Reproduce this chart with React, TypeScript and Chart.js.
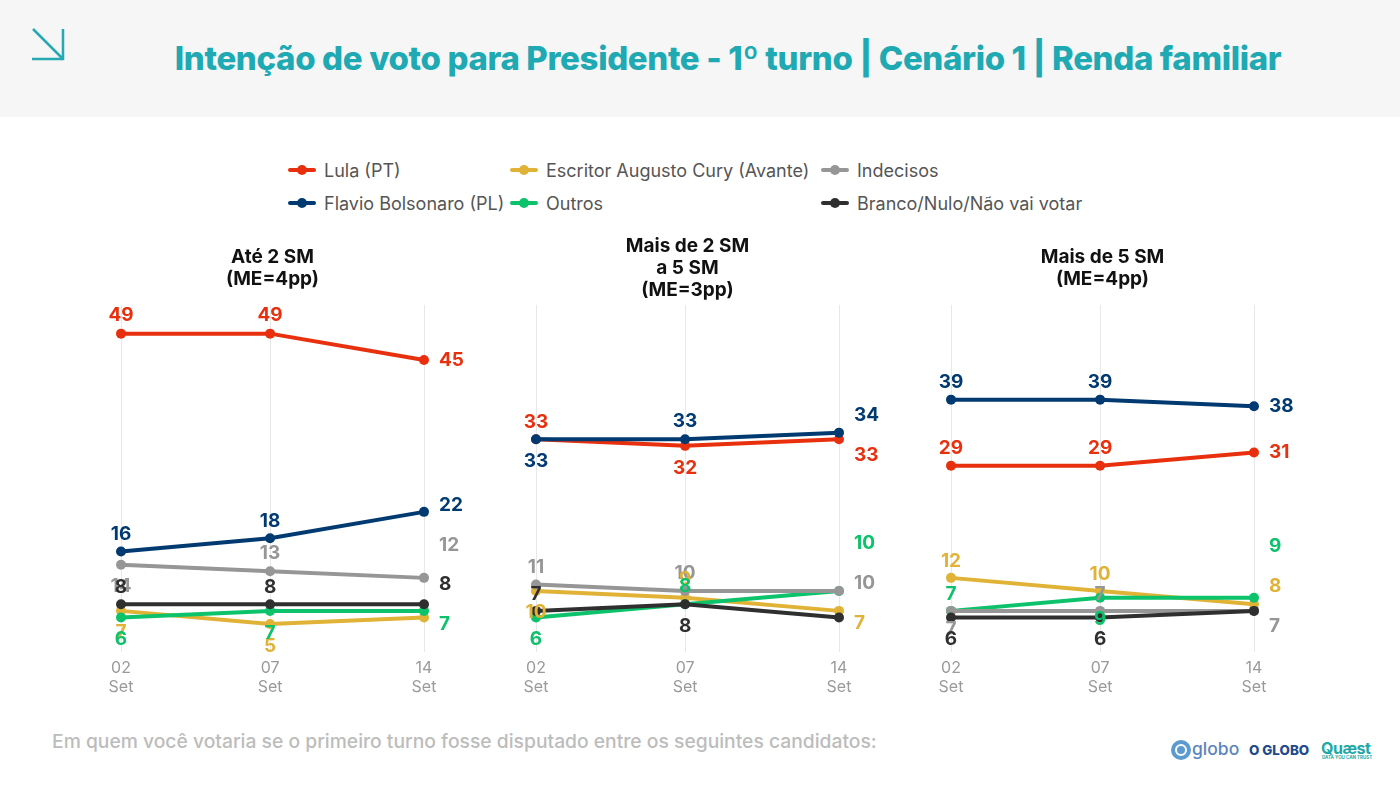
import React, { useEffect, useRef } from 'react';
import { Chart, registerables } from 'chart.js';

Chart.register(...registerables);

const FONT = 'Inter, "Noto Sans", sans-serif';

const dates = [['02', 'Set'], ['07', 'Set'], ['14', 'Set']];
// the three polls are not evenly spaced in the original layout
const dateStops = [0, 49.2, 100];

const panelTitles = [
  ['Até 2 SM', '(ME=4pp)'],
  ['Mais de 2 SM', 'a 5 SM', '(ME=3pp)'],
  ['Mais de 5 SM', '(ME=4pp)'],
];

const seriesNames = ['Lula (PT)', 'Flavio Bolsonaro (PL)', 'Escritor Augusto Cury (Avante)', 'Outros', 'Indecisos', 'Branco/Nulo/Não vai votar'];
const seriesColors = ['#e8300e', '#003a70', '#e0b236', '#0cc26a', '#969696', '#2f2f2f'];

// one row per panel
const lula = [[49, 49, 45], [33, 32, 33], [29, 29, 31]];
const flavio = [[16, 18, 22], [33, 33, 34], [39, 39, 38]];
const cury = [[7, 5, 6], [10, 9, 7], [12, 10, 8]];
const outros = [[6, 7, 7], [6, 8, 10], [7, 9, 9]];
const indecisos = [[14, 13, 12], [11, 10, 10], [7, 7, 7]];
const branco = [[8, 8, 8], [7, 8, 6], [6, 6, 7]];
const allSeries = [lula, flavio, cury, outros, indecisos, branco];

// vertical nudge of each value label, null = label is covered in the original
const labelNudges = [
  [[-19, -19, -1], [-18, -18, -8], [20, 21, null], [21, 21, 12], [21, -19, -34], [-18, -18, -21]],
  [[-18, 21, 15], [21, -19, -18], [20, -19, 11], [21, -19, -49], [-18, -19, -9], [-18, 21, null]],
  [[-18, -18, -1], [-18, -18, -1], [-18, -18, -19], [-18, 21, -52], [17, -18, 14], [21, 21, null]],
];
// labels overlap in the original in this order, last one on top
const labelOrder = [0, 1, 4, 2, 3, 5];

const legendRows = [
  { name: 0, left: 288, top: 170 },
  { name: 1, left: 288, top: 203 },
  { name: 2, left: 510, top: 170 },
  { name: 3, left: 510, top: 203 },
  { name: 4, left: 821, top: 170 },
  { name: 5, left: 821, top: 203 },
];

const valueLabels = {
  id: 'valueLabels',
  afterDatasetsDraw(chart: any, _args: any, opts: any) {
    const ctx = chart.ctx;
    ctx.save();
    ctx.font = `700 19px ${FONT}`;
    ctx.textBaseline = 'middle';
    labelOrder.forEach((s) => {
      const ds = chart.data.datasets[s];
      chart.getDatasetMeta(s).data.forEach((pt: any, i: number) => {
        const dy = opts.nudges[s][i];
        if (dy === null) return;
        const last = i === ds.data.length - 1;
        ctx.fillStyle = ds.borderColor;
        ctx.textAlign = last ? 'left' : 'center';
        ctx.fillText(String(ds.data[i].y), last ? pt.x + 15 : pt.x, pt.y + dy + 1);
      });
    });
    ctx.restore();
  },
};

const Panel: React.FC<{ index: number; left: number }> = ({ index, left }) => {
  const canvasRef = useRef<HTMLCanvasElement>(null);

  useEffect(() => {
    if (!canvasRef.current) return;
    const threeLines = panelTitles[index].length === 3;
    const chart = new Chart(canvasRef.current, {
      type: 'line',
      data: {
        datasets: allSeries.map((series, s) => ({
          label: seriesNames[s],
          data: series[index].map((v, i) => ({ x: dateStops[i], y: v })),
          borderColor: seriesColors[s],
          backgroundColor: seriesColors[s],
          borderWidth: 4,
          pointRadius: 5,
          pointBorderWidth: 0,
          tension: 0,
          clip: false,
          order: allSeries.length - s,
        })),
      },
      plugins: [valueLabels],
      options: {
        animation: false,
        responsive: false,
        layout: { padding: { left: 61, right: 56, top: 0, bottom: 0 } },
        plugins: {
          legend: { display: false },
          tooltip: { enabled: false },
          title: {
            display: true,
            text: panelTitles[index],
            color: '#111111',
            font: { family: FONT, size: 19, weight: 700, lineHeight: '22px' },
            padding: threeLines ? { top: 5, bottom: 4 } : { top: 16, bottom: 15 },
          },
          valueLabels: { nudges: labelNudges[index] },
        } as any,
        scales: {
          x: {
            type: 'linear',
            min: 0,
            max: 100,
            afterBuildTicks: (scale: any) => {
              scale.ticks = dateStops.map((value) => ({ value }));
            },
            afterFit: (scale: any) => {
              scale.height = 58;
            },
            border: { display: false },
            grid: { color: '#e8e8e8', lineWidth: 1, drawTicks: false },
            ticks: {
              padding: 7,
              maxRotation: 0,
              autoSkip: false,
              color: '#9a9a9a',
              font: { family: FONT, size: 16, lineHeight: '19px' },
              callback: (value: any) => dates[dateStops.indexOf(value)],
            },
          },
          // bottom stops just above zero, the gridlines end there in the original
          y: { display: false, min: 0.77, max: 53.34 },
        },
      },
    });
    return () => chart.destroy();
  }, [index]);

  return <canvas ref={canvasRef} width={420} height={480} style={{ position: 'absolute', left, top: 230 }} />;
};

const App: React.FC = () => (
  <div style={{ position: 'absolute', left: 0, top: 0, width: 1400, height: 788, background: '#fff', overflow: 'hidden', fontFamily: FONT }}>
    <div style={{ position: 'absolute', left: 0, top: 0, width: 1400, height: 117, background: '#f6f6f6' }} />
    <svg width={40} height={40} style={{ position: 'absolute', left: 28, top: 24 }}>
      <path d="M5 5 L35 35 M35 5 L35 35 L4 35" stroke="#27a9b4" strokeWidth={2.5} fill="none" />
    </svg>
    <div style={{ position: 'absolute', left: 0, width: 1456, top: 37, textAlign: 'center', fontSize: 33, lineHeight: '42px', fontWeight: 800, letterSpacing: '-0.35px', color: '#1fa9b3', whiteSpace: 'nowrap' }}>
      Intenção de voto para Presidente - 1º turno | Cenário 1 | Renda familiar
    </div>

    {legendRows.map((row) => (
      <div key={row.name}>
        <div style={{ position: 'absolute', left: row.left, top: row.top - 2, width: 28, height: 4, borderRadius: 2, background: seriesColors[row.name] }} />
        <div style={{ position: 'absolute', left: row.left + 9, top: row.top - 5, width: 10, height: 10, borderRadius: 5, background: seriesColors[row.name] }} />
        <div style={{ position: 'absolute', left: row.left + 36, top: row.top - 11, fontSize: 18, lineHeight: '24px', color: '#555555', whiteSpace: 'nowrap' }}>
          {seriesNames[row.name]}
        </div>
      </div>
    ))}

    <Panel index={0} left={60} />
    <Panel index={1} left={475} />
    <Panel index={2} left={890} />

    <div style={{ position: 'absolute', left: 52, top: 729, fontSize: 19.3, lineHeight: '24px', fontWeight: 500, color: '#bcbcbc', whiteSpace: 'nowrap' }}>
      Em quem você votaria se o primeiro turno fosse disputado entre os seguintes candidatos:
    </div>

    <svg width={22} height={22} style={{ position: 'absolute', left: 1170, top: 739 }}>
      <circle cx={11} cy={11} r={8} fill="none" stroke="#5c9bd0" strokeWidth={4} />
      <circle cx={11} cy={11} r={4} fill="#5c9bd0" />
    </svg>
    <div style={{ position: 'absolute', left: 1192, top: 735, fontSize: 17.5, lineHeight: '28px', fontWeight: 500, color: '#5b84bd' }}>globo</div>
    <div style={{ position: 'absolute', left: 1249, top: 741, fontSize: 13.4, lineHeight: '18px', fontWeight: 800, color: '#1f4a8c', whiteSpace: 'nowrap' }}>O GLOBO</div>
    <div style={{ position: 'absolute', left: 1321, top: 738, fontSize: 16, lineHeight: '20px', fontWeight: 700, letterSpacing: '-0.5px', color: '#1fa9a6' }}>Quæst</div>
    <div style={{ position: 'absolute', left: 1322, top: 755, fontSize: 4.5, lineHeight: '5px', fontWeight: 700, color: '#1fa9a6', whiteSpace: 'nowrap' }}>DATA YOU CAN TRUST</div>
  </div>
);

export default App;
